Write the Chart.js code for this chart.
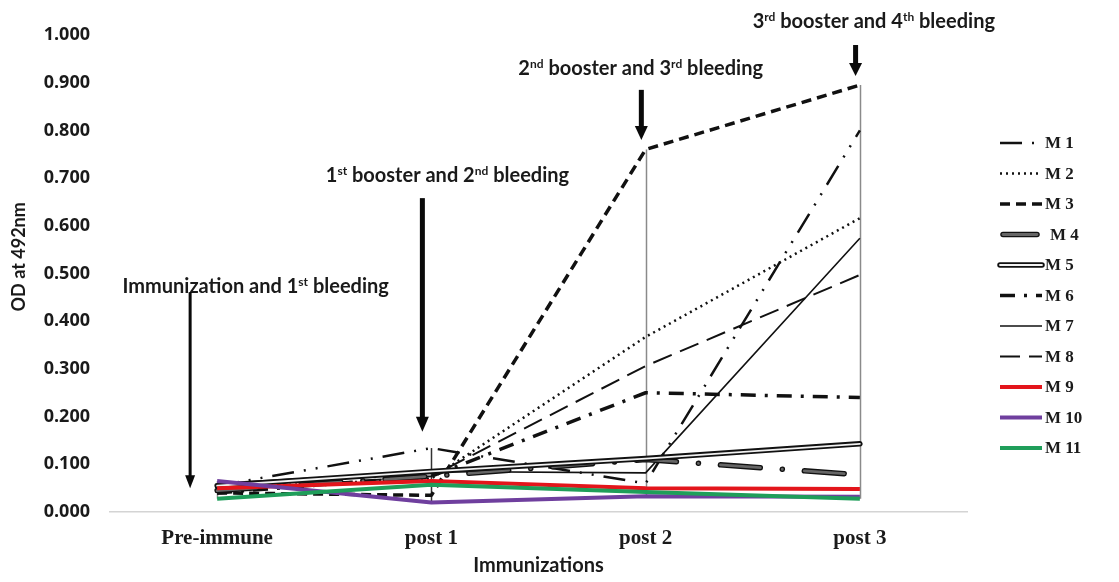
<!DOCTYPE html>
<html>
<head>
<meta charset="utf-8">
<script src="https://cdn.jsdelivr.net/npm/chart.js@4.4.1/dist/chart.umd.min.js"></script>
<style>
  html, body { margin: 0; padding: 0; background: #ffffff; }
  #wrap { width: 1119px; height: 582px; position: relative; }
</style>
</head>
<body>
<div id="wrap"><canvas id="c" width="1119" height="582"></canvas></div>
<script>
// Sampling points of the immunization schedule
const categories = ['Pre-immune', 'post 1', 'post 2', 'post 3'];

// OD readings at 492 nm for each mouse
const m1  = [0.055, 0.134, 0.060, 0.800];
const m2  = [0.050, 0.070, 0.367, 0.616];
const m3  = [0.040, 0.035, 0.760, 0.895];
const m4  = [0.045, 0.075, 0.110, 0.078];
const m5  = [0.055, 0.085, 0.112, 0.143];
const m6  = [0.040, 0.075, 0.250, 0.240];
const m7  = [0.060, 0.085, 0.082, 0.574];
const m8  = [0.045, 0.075, 0.306, 0.497];
const m9  = [0.050, 0.065, 0.050, 0.048];
const m10 = [0.065, 0.020, 0.033, 0.032];
const m11 = [0.028, 0.057, 0.042, 0.028];

const seriesNames = ['M 1', 'M 2', 'M 3', 'M 4', 'M 5', 'M 6', 'M 7', 'M 8', 'M 9', 'M 10', 'M 11'];
const seriesValues = [m1, m2, m3, m4, m5, m6, m7, m8, m9, m10, m11];

const yTickLabels = ['0.000', '0.100', '0.200', '0.300', '0.400', '0.500',
                     '0.600', '0.700', '0.800', '0.900', '1.000'];
const yTitle = 'OD at 492nm';

// Line styles per mouse (same order as seriesNames)
const lineStyles = [
  { color: '#111111', width: 2.5, dash: [22, 10, 2, 10, 2, 10], order: 10 },
  { color: '#111111', width: 2.5, dash: [2, 4], order: 11 },
  { color: '#111111', width: 3.5, dash: [10, 6], order: 12 },
  { color: '#666666', width: 2.8, dash: [40, 22, 0.1, 22], cap: 'round', outline: '#111111', outlineWidth: 5.5, order: 8 },
  { color: '#f2f2f2', width: 1.8, dash: [], cap: 'round', outline: '#111111', outlineWidth: 5.5, order: 7 },
  { color: '#111111', width: 3.5, dash: [15, 9, 3, 9], order: 13 },
  { color: '#111111', width: 1.6, dash: [], order: 9 },
  { color: '#111111', width: 2, dash: [20, 9], order: 14 },
  { color: '#e3151b', width: 4, dash: [], order: 3 },
  { color: '#6f3f9e', width: 4, dash: [], order: 2 },
  { color: '#1f9e5a', width: 4, dash: [], order: 1 }
];

// Labelled arrows marking each immunization step
const notes = [
  { parts: [['Immunization and 1'], ['st', 1], [' bleeding']], tx: 0.18, ty: 0.459, ax: -0.126, from: 0.461, to: 0.05, shaft: 3, head: 10, headLen: 13 },
  { parts: [['1'], ['st', 1], [' booster and 2'], ['nd', 1], [' bleeding']], tx: 1.075, ty: 0.692, ax: 0.958, from: 0.658, to: 0.168, shaft: 5, head: 13, headLen: 15 },
  { parts: [['2'], ['nd', 1], [' booster and 3'], ['rd', 1], [' bleeding']], tx: 1.977, ty: 0.916, ax: 1.98, from: 0.885, to: 0.78, shaft: 5, head: 13, headLen: 14 },
  { parts: [['3'], ['rd', 1], [' booster and 4'], ['th', 1], [' bleeding']], tx: 3.065, ty: 1.015, ax: 2.98, from: 0.979, to: 0.914, shaft: 5, head: 13, headLen: 13 }
];

const datasets = [];
seriesValues.forEach((vals, i) => {
  const st = lineStyles[i];
  if (st.outline) {
    datasets.push({
      label: seriesNames[i] + ' outline', data: vals,
      borderColor: st.outline, borderWidth: st.outlineWidth, borderDash: st.dash,
      borderCapStyle: st.cap || 'butt', borderJoinStyle: 'round',
      pointRadius: 0, tension: 0, fill: false, order: st.order + 0.5
    });
  }
  datasets.push({
    label: seriesNames[i], data: vals,
    borderColor: st.color, borderWidth: st.width, borderDash: st.dash,
    borderCapStyle: st.cap || 'butt', borderJoinStyle: 'round',
    pointRadius: 0, tension: 0, fill: false, order: st.order
  });
});

function catPixel(x, idx) {
  const i = Math.floor(idx);
  const step = x.getPixelForValue(1) - x.getPixelForValue(0);
  return x.getPixelForValue(i) + (idx - i) * step;
}

// Vertical lines joining the highest and lowest reading at each sampling point
const highLowLines = {
  id: 'highLowLines',
  beforeDatasetsDraw(chart) {
    const { ctx, scales: { x, y } } = chart;
    ctx.save();
    ctx.lineWidth = 1.5;
    categories.forEach((c, i) => {
      const col = seriesValues.map(s => s[i]);
      const px = Math.round(x.getPixelForValue(i)) + 0.5;
      ctx.strokeStyle = i === 1 ? '#333333' : '#8a8a8a';
      ctx.beginPath();
      ctx.moveTo(px, y.getPixelForValue(Math.max(...col)));
      ctx.lineTo(px, y.getPixelForValue(Math.min(...col)));
      ctx.stroke();
    });
    ctx.restore();
  }
};

function drawParts(ctx, parts, cx, baseline, size) {
  const fn = `bold ${size}px Lato`;
  const fs = `bold ${Math.round(size * 0.62)}px Lato`;
  let w = 0;
  parts.forEach(p => { ctx.font = p[1] ? fs : fn; w += ctx.measureText(p[0]).width; });
  let px = cx - w / 2;
  ctx.textAlign = 'left';
  ctx.textBaseline = 'alphabetic';
  parts.forEach(p => {
    ctx.font = p[1] ? fs : fn;
    ctx.fillText(p[0], px, p[1] ? baseline - size * 0.36 : baseline);
    px += ctx.measureText(p[0]).width;
  });
}

const annotations = {
  id: 'annotations',
  afterDatasetsDraw(chart) {
    const { ctx, scales: { x, y } } = chart;
    ctx.save();
    notes.forEach(n => {
      ctx.fillStyle = '#1a1a1a';
      drawParts(ctx, n.parts, catPixel(x, n.tx), y.getPixelForValue(n.ty), 20);
      const ax = catPixel(x, n.ax);
      const y0 = y.getPixelForValue(n.from);
      const y1 = y.getPixelForValue(n.to);
      ctx.fillStyle = '#0a0a0a';
      ctx.fillRect(ax - n.shaft / 2, y0, n.shaft, (y1 - n.headLen) - y0 + 1);
      ctx.beginPath();
      ctx.moveTo(ax - n.head / 2, y1 - n.headLen);
      ctx.lineTo(ax + n.head / 2, y1 - n.headLen);
      ctx.lineTo(ax, y1);
      ctx.closePath();
      ctx.fill();
    });
    ctx.restore();
  }
};

// Vertical axis title, set a little above the middle of the value axis
const yAxisTitle = {
  id: 'yAxisTitle',
  afterDraw(chart) {
    const { ctx, scales: { y } } = chart;
    ctx.save();
    ctx.translate(19, y.getPixelForValue(0.535));
    ctx.rotate(-Math.PI / 2);
    ctx.fillStyle = '#1a1a1a';
    ctx.font = 'bold 18px Lato';
    ctx.textAlign = 'center';
    ctx.textBaseline = 'middle';
    ctx.fillText(yTitle, 0, 0);
    ctx.restore();
  }
};

// Legend at the right: line sample plus label
const sideLegend = {
  id: 'sideLegend',
  afterDraw(chart) {
    const { ctx } = chart;
    const x0 = 1000, x1 = 1042, top = 143, gap = 30.5;
    ctx.save();
    seriesNames.forEach((name, i) => {
      const st = lineStyles[i];
      const yy = top + i * gap;
      const xe = i === 3 ? 1037 : x1;
      const xs = i === 3 ? 1003 : x0;
      const strokeIt = (color, width) => {
        ctx.beginPath();
        ctx.strokeStyle = color;
        ctx.lineWidth = width;
        ctx.lineCap = st.cap || 'butt';
        ctx.setLineDash(i === 3 ? [] : st.dash);
        ctx.moveTo(xs, yy);
        ctx.lineTo(xe, yy);
        ctx.stroke();
      };
      if (st.outline) strokeIt(st.outline, st.outlineWidth);
      strokeIt(st.color, st.width);
      ctx.setLineDash([]);
      ctx.fillStyle = '#1a1a1a';
      ctx.font = 'bold 17px "Liberation Serif"';
      ctx.textAlign = 'left';
      ctx.textBaseline = 'middle';
      ctx.fillText(name, i === 3 ? 1050 : 1045, yy + 1);
    });
    ctx.restore();
  }
};

new Chart(document.getElementById('c'), {
  type: 'line',
  data: { labels: categories, datasets },
  options: {
    responsive: false,
    devicePixelRatio: 1,
    animation: false,
    layout: { padding: { top: 35, right: 152, bottom: 0, left: 0 } },
    plugins: { legend: { display: false }, tooltip: { enabled: false } },
    scales: {
      x: {
        offset: true,
        grid: { display: false, drawTicks: false },
        border: { display: true, color: '#d4d4d4', width: 1.5 },
        ticks: {
          padding: 14, color: '#1a1a1a',
          font: { family: '"Liberation Serif"', weight: 'bold', size: 21 }
        },
        title: {
          display: true, text: 'Immunizations', color: '#1a1a1a',
          font: { family: 'Lato', weight: 'bold', size: 20 }, padding: { top: 6 }
        },
        afterFit(s) { s.height = 70; }
      },
      y: {
        min: 0, max: 1,
        grid: { display: false, drawTicks: false },
        border: { display: false },
        ticks: {
          stepSize: 0.1, padding: 20, color: '#1a1a1a',
          font: { family: '"Open Sans"', weight: 'bold', size: 18 },
          callback: (v, i) => yTickLabels[i]
        },
        afterFit(s) { s.width = 110; }
      }
    }
  },
  plugins: [highLowLines, annotations, yAxisTitle, sideLegend]
});
</script>
</body>
</html>
